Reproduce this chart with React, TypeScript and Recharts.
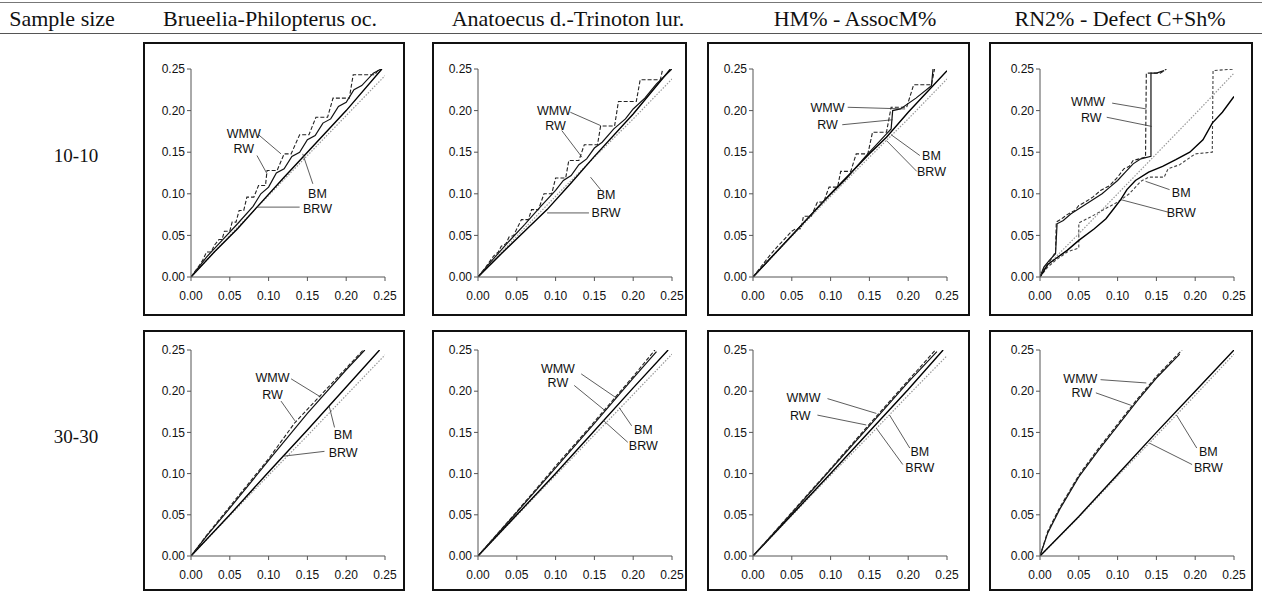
import { LineChart, Line, XAxis, YAxis, ReferenceLine, ReferenceDot } from "recharts";

type Pt = [number, number];

const headers = ["Brueelia-Philopterus oc.", "Anatoecus d.-Trinoton lur.", "HM% - AssocM%", "RN2% - Defect C+Sh%"];
const sampleSizes = ["10-10", "30-30"];
const axisTicks = [0, 0.05, 0.1, 0.15, 0.2, 0.25];

// ---- 10-10 ----
const bru10WMW: Pt[] = [[0, 0], [0.01, 0.013], [0.015, 0.02], [0.02, 0.03], [0.026, 0.03], [0.03, 0.038], [0.036, 0.045], [0.04, 0.045], [0.043, 0.055], [0.05, 0.055], [0.053, 0.066], [0.058, 0.066], [0.062, 0.08], [0.068, 0.08], [0.072, 0.096], [0.081, 0.096], [0.087, 0.11], [0.096, 0.11], [0.098, 0.128], [0.111, 0.128], [0.12, 0.148], [0.129, 0.148], [0.14, 0.171], [0.152, 0.171], [0.161, 0.192], [0.176, 0.192], [0.183, 0.215], [0.204, 0.215], [0.209, 0.243], [0.237, 0.243], [0.242, 0.25]];
const bru10RW: Pt[] = [[0, 0], [0.02, 0.024], [0.04, 0.044], [0.06, 0.064], [0.08, 0.085], [0.09, 0.1], [0.1, 0.108], [0.11, 0.125], [0.12, 0.13], [0.13, 0.145], [0.14, 0.15], [0.15, 0.165], [0.16, 0.17], [0.17, 0.185], [0.18, 0.19], [0.19, 0.205], [0.2, 0.21], [0.21, 0.225], [0.22, 0.23], [0.235, 0.245], [0.245, 0.25]];
const bru10BM: Pt[] = [[0, 0], [0.05, 0.05], [0.1, 0.098], [0.15, 0.146], [0.2, 0.194], [0.25, 0.242]];
const bru10BRW: Pt[] = [[0, 0], [0.03, 0.03], [0.06, 0.058], [0.085, 0.084], [0.12, 0.12], [0.15, 0.15], [0.2, 0.2], [0.246, 0.25]];

const ana10WMW: Pt[] = [[0, 0], [0.01, 0.012], [0.02, 0.025], [0.026, 0.03], [0.03, 0.037], [0.036, 0.04], [0.04, 0.048], [0.046, 0.05], [0.05, 0.058], [0.056, 0.069], [0.065, 0.069], [0.069, 0.081], [0.078, 0.081], [0.085, 0.1], [0.095, 0.1], [0.1, 0.119], [0.113, 0.119], [0.117, 0.14], [0.13, 0.14], [0.137, 0.159], [0.154, 0.159], [0.158, 0.1815], [0.176, 0.1815], [0.181, 0.211], [0.204, 0.211], [0.209, 0.237], [0.235, 0.237], [0.238, 0.25]];
const ana10RW: Pt[] = [[0, 0], [0.02, 0.022], [0.04, 0.043], [0.06, 0.063], [0.08, 0.084], [0.1, 0.104], [0.11, 0.116], [0.12, 0.122], [0.13, 0.135], [0.14, 0.142], [0.15, 0.155], [0.16, 0.162], [0.175, 0.178], [0.19, 0.19], [0.2, 0.202], [0.215, 0.215], [0.23, 0.232], [0.25, 0.25]];
const ana10BM: Pt[] = [[0, 0], [0.05, 0.049], [0.1, 0.097], [0.15, 0.144], [0.2, 0.19], [0.25, 0.238]];
const ana10BRW: Pt[] = [[0, 0], [0.03, 0.028], [0.06, 0.055], [0.089, 0.081], [0.12, 0.113], [0.15, 0.145], [0.2, 0.196], [0.248, 0.25]];

const hm10WMW: Pt[] = [[0, 0], [0.01, 0.012], [0.02, 0.024], [0.03, 0.035], [0.04, 0.045], [0.05, 0.055], [0.055, 0.058], [0.062, 0.058], [0.065, 0.073], [0.075, 0.073], [0.083, 0.09], [0.091, 0.09], [0.098, 0.108], [0.109, 0.108], [0.113, 0.127], [0.126, 0.127], [0.133, 0.148], [0.148, 0.148], [0.154, 0.174], [0.172, 0.174], [0.178, 0.204], [0.198, 0.204], [0.207, 0.231], [0.23, 0.231], [0.234, 0.25]];
const hm10RW: Pt[] = [[0, 0], [0.03, 0.03], [0.06, 0.06], [0.09, 0.09], [0.12, 0.118], [0.145, 0.145], [0.16, 0.16], [0.172, 0.172], [0.178, 0.178], [0.18, 0.2], [0.19, 0.202], [0.21, 0.215], [0.23, 0.23], [0.232, 0.25]];
const hm10BM: Pt[] = [[0, 0], [0.05, 0.049], [0.1, 0.097], [0.15, 0.144], [0.2, 0.19], [0.25, 0.238]];
const hm10BRW: Pt[] = [[0, 0], [0.05, 0.05], [0.1, 0.1], [0.15, 0.148], [0.172, 0.168], [0.2, 0.198], [0.25, 0.248]];

const rn10WMW: Pt[] = [[0, 0], [0.005, 0.01], [0.012, 0.018], [0.02, 0.03], [0.021, 0.066], [0.028, 0.07], [0.035, 0.075], [0.045, 0.08], [0.05, 0.086], [0.058, 0.09], [0.068, 0.096], [0.078, 0.104], [0.09, 0.11], [0.1, 0.12], [0.108, 0.13], [0.115, 0.133], [0.12, 0.14], [0.136, 0.144], [0.137, 0.245], [0.155, 0.245], [0.163, 0.25]];
const rn10RW: Pt[] = [[0, 0], [0.005, 0.012], [0.012, 0.02], [0.02, 0.028], [0.022, 0.064], [0.03, 0.068], [0.04, 0.076], [0.05, 0.082], [0.06, 0.088], [0.07, 0.094], [0.08, 0.1], [0.09, 0.108], [0.1, 0.116], [0.11, 0.126], [0.12, 0.136], [0.13, 0.142], [0.143, 0.145], [0.143, 0.245], [0.15, 0.245], [0.16, 0.248]];
const rn10BM: Pt[] = [[0, 0.005], [0.05, 0.052], [0.1, 0.1], [0.15, 0.148], [0.2, 0.196], [0.25, 0.245]];
const rn10Step: Pt[] = [[0, 0], [0.01, 0.012], [0.02, 0.02], [0.035, 0.03], [0.05, 0.035], [0.05, 0.065], [0.065, 0.072], [0.08, 0.08], [0.1, 0.09], [0.115, 0.1], [0.125, 0.11], [0.13, 0.115], [0.14, 0.12], [0.16, 0.12], [0.165, 0.13], [0.18, 0.135], [0.2, 0.148], [0.222, 0.15], [0.223, 0.248], [0.25, 0.25]];
const rn10BRW: Pt[] = [[0, 0], [0.01, 0.015], [0.02, 0.022], [0.035, 0.032], [0.05, 0.044], [0.07, 0.058], [0.085, 0.07], [0.095, 0.082], [0.104, 0.093], [0.112, 0.105], [0.123, 0.116], [0.14, 0.126], [0.158, 0.133], [0.175, 0.141], [0.193, 0.15], [0.21, 0.165], [0.222, 0.185], [0.235, 0.198], [0.25, 0.217]];

// ---- 30-30 ----
const bru30WMW: Pt[] = [[0, 0], [0.02, 0.025], [0.05, 0.06], [0.1, 0.118], [0.134, 0.162], [0.167, 0.195], [0.2, 0.228], [0.222, 0.25]];
const bru30RW: Pt[] = [[0, 0], [0.02, 0.024], [0.05, 0.058], [0.1, 0.116], [0.15, 0.173], [0.2, 0.226], [0.224, 0.25]];
const bru30BM: Pt[] = [[0, 0], [0.05, 0.049], [0.1, 0.098], [0.15, 0.146], [0.2, 0.195], [0.25, 0.244]];
const bru30BRW: Pt[] = [[0, 0], [0.05, 0.05], [0.1, 0.102], [0.15, 0.153], [0.2, 0.205], [0.243, 0.25]];

const ana30WMW: Pt[] = [[0, 0], [0.05, 0.054], [0.1, 0.109], [0.15, 0.163], [0.2, 0.218], [0.228, 0.25]];
const ana30RW: Pt[] = [[0, 0], [0.05, 0.053], [0.1, 0.107], [0.15, 0.161], [0.2, 0.216], [0.23, 0.248]];
const ana30BM: Pt[] = [[0, 0], [0.05, 0.049], [0.1, 0.098], [0.15, 0.147], [0.2, 0.196], [0.25, 0.245]];
const ana30BRW: Pt[] = [[0, 0], [0.05, 0.05], [0.1, 0.1], [0.15, 0.152], [0.2, 0.204], [0.245, 0.25]];

const hm30WMW: Pt[] = [[0, 0], [0.05, 0.053], [0.1, 0.106], [0.15, 0.16], [0.2, 0.213], [0.235, 0.25]];
const hm30RW: Pt[] = [[0, 0], [0.05, 0.052], [0.1, 0.105], [0.15, 0.158], [0.2, 0.211], [0.237, 0.248]];
const hm30BM: Pt[] = [[0, 0], [0.05, 0.049], [0.1, 0.098], [0.15, 0.146], [0.2, 0.195], [0.25, 0.243]];
const hm30BRW: Pt[] = [[0, 0], [0.05, 0.05], [0.1, 0.1], [0.15, 0.151], [0.2, 0.202], [0.245, 0.25]];

const rn30WMW: Pt[] = [[0, 0], [0.01, 0.03], [0.025, 0.058], [0.05, 0.098], [0.075, 0.13], [0.1, 0.16], [0.125, 0.19], [0.15, 0.218], [0.183, 0.25]];
const rn30RW: Pt[] = [[0, 0], [0.01, 0.028], [0.025, 0.056], [0.05, 0.096], [0.075, 0.128], [0.1, 0.158], [0.125, 0.188], [0.15, 0.216], [0.18, 0.245]];
const rn30BM: Pt[] = [[0, 0], [0.05, 0.047], [0.1, 0.097], [0.15, 0.146], [0.2, 0.195], [0.25, 0.245]];
const rn30BRW: Pt[] = [[0, 0], [0.05, 0.048], [0.1, 0.099], [0.15, 0.15], [0.2, 0.2], [0.25, 0.25]];

const styles: Record<string, { stroke: string; dash?: string; w: number }> = {
  WMW: { stroke: "#222", dash: "4 2", w: 1.1 },
  RW: { stroke: "#111", w: 1.2 },
  BM: { stroke: "#999", dash: "1.5 1.5", w: 1.2 },
  BRW: { stroke: "#000", w: 1.4 },
  step: { stroke: "#444", dash: "3 2", w: 1.1 },
};

type Note = { name: string; at: Pt; from: Pt; to: Pt };
type PanelDef = { series: [string, Pt[]][]; notes: Note[] };

const note = (name: string, at: Pt, from: Pt, to: Pt): Note => ({ name, at, from, to });

const panels: PanelDef[][] = [
  [
    {
      series: [["BM", bru10BM], ["BRW", bru10BRW], ["RW", bru10RW], ["WMW", bru10WMW]],
      notes: [
        note("WMW", [0.068, 0.173], [0.087, 0.171], [0.116, 0.148]),
        note("RW", [0.068, 0.154], [0.085, 0.146], [0.098, 0.124]),
        note("BM", [0.163, 0.1], [0.157, 0.112], [0.144, 0.148]),
        note("BRW", [0.163, 0.082], [0.14, 0.084], [0.085, 0.084]),
      ],
    },
    {
      series: [["BM", ana10BM], ["BRW", ana10BRW], ["RW", ana10RW], ["WMW", ana10WMW]],
      notes: [
        note("WMW", [0.098, 0.2], [0.119, 0.198], [0.158, 0.182]),
        note("RW", [0.1, 0.182], [0.108, 0.176], [0.134, 0.144]),
        note("BM", [0.165, 0.099], [0.158, 0.105], [0.145, 0.12]),
        note("BRW", [0.165, 0.077], [0.143, 0.077], [0.089, 0.077]),
      ],
    },
    {
      series: [["BM", hm10BM], ["BRW", hm10BRW], ["RW", hm10RW], ["WMW", hm10WMW]],
      notes: [
        note("WMW", [0.096, 0.204], [0.122, 0.204], [0.196, 0.202]),
        note("RW", [0.096, 0.183], [0.115, 0.183], [0.18, 0.189]),
        note("BM", [0.23, 0.146], [0.215, 0.146], [0.178, 0.171]),
        note("BRW", [0.23, 0.127], [0.211, 0.127], [0.172, 0.164]),
      ],
    },
    {
      series: [["BM", rn10BM], ["step", rn10Step], ["BRW", rn10BRW], ["RW", rn10RW], ["WMW", rn10WMW]],
      notes: [
        note("WMW", [0.062, 0.211], [0.093, 0.209], [0.137, 0.202]),
        note("RW", [0.066, 0.192], [0.086, 0.192], [0.144, 0.181]),
        note("BM", [0.182, 0.101], [0.167, 0.105], [0.136, 0.115]),
        note("BRW", [0.182, 0.078], [0.165, 0.078], [0.104, 0.093]),
      ],
    },
  ],
  [
    {
      series: [["BM", bru30BM], ["BRW", bru30BRW], ["RW", bru30RW], ["WMW", bru30WMW]],
      notes: [
        note("WMW", [0.105, 0.217], [0.129, 0.215], [0.167, 0.193]),
        note("RW", [0.105, 0.196], [0.116, 0.188], [0.134, 0.164]),
        note("BM", [0.196, 0.147], [0.185, 0.156], [0.178, 0.182]),
        note("BRW", [0.196, 0.126], [0.172, 0.127], [0.118, 0.121]),
      ],
    },
    {
      series: [["BM", ana30BM], ["BRW", ana30BRW], ["RW", ana30RW], ["WMW", ana30WMW]],
      notes: [
        note("WMW", [0.103, 0.227], [0.133, 0.221], [0.178, 0.192]),
        note("RW", [0.103, 0.211], [0.124, 0.207], [0.163, 0.177]),
        note("BM", [0.213, 0.153], [0.198, 0.158], [0.182, 0.18]),
        note("BRW", [0.213, 0.134], [0.193, 0.138], [0.161, 0.165]),
      ],
    },
    {
      series: [["BM", hm30BM], ["BRW", hm30BRW], ["RW", hm30RW], ["WMW", hm30WMW]],
      notes: [
        note("WMW", [0.065, 0.192], [0.096, 0.191], [0.159, 0.173]),
        note("RW", [0.061, 0.171], [0.083, 0.171], [0.146, 0.159]),
        note("BM", [0.215, 0.127], [0.202, 0.131], [0.176, 0.171]),
        note("BRW", [0.215, 0.107], [0.193, 0.111], [0.159, 0.155]),
      ],
    },
    {
      series: [["BM", rn30BM], ["BRW", rn30BRW], ["RW", rn30RW], ["WMW", rn30WMW]],
      notes: [
        note("WMW", [0.052, 0.215], [0.078, 0.214], [0.137, 0.21]),
        note("RW", [0.054, 0.198], [0.072, 0.198], [0.117, 0.183]),
        note("BM", [0.217, 0.127], [0.202, 0.131], [0.176, 0.171]),
        note("BRW", [0.217, 0.107], [0.196, 0.111], [0.141, 0.137]),
      ],
    },
  ],
];

const cols = [
  { left: 143, width: 262, plotLeft: 191 },
  { left: 432, width: 255, plotLeft: 478 },
  { left: 707, width: 263, plotLeft: 753 },
  { left: 989, width: 264, plotLeft: 1040 },
];
const rows = [
  { top: 42, height: 274, plotTop: 69, plotBottom: 277 },
  { top: 330, height: 261, plotTop: 350, plotBottom: 556 },
];
const plotW = 194;
const sans = "Arial, 'Liberation Sans', sans-serif";
const serif = "'Times New Roman', 'Liberation Serif', serif";

function Panel({ def, r, c }: { def: PanelDef; r: number; c: number }) {
  const col = cols[c];
  const row = rows[r];
  const w = col.width - 4;
  const h = row.height - 4;
  const yW = col.plotLeft - (col.left + 2);
  const mTop = row.plotTop - (row.top + 2);
  const xH = h - (row.plotBottom - (row.top + 2));
  const fmt = (v: number) => v.toFixed(2);
  return (
    <div
      style={{
        position: "absolute",
        left: col.left,
        top: row.top,
        width: col.width,
        height: row.height,
        border: "2px solid #111",
        boxSizing: "border-box",
      }}
    >
      <LineChart width={w} height={h} margin={{ top: mTop, right: w - yW - plotW, bottom: 0, left: 0 }}>
        <XAxis
          type="number"
          dataKey="x"
          domain={[0, 0.25]}
          ticks={axisTicks}
          tickFormatter={fmt}
          allowDataOverflow
          height={xH}
          tickSize={4}
          tickMargin={10}
          stroke="#555"
          tick={{ fill: "#111", fontSize: 12, fontFamily: sans }}
        />
        <YAxis
          type="number"
          domain={[0, 0.25]}
          ticks={axisTicks}
          tickFormatter={fmt}
          allowDataOverflow
          width={yW}
          tickSize={4}
          tickMargin={2}
          stroke="#555"
          tick={{ fill: "#111", fontSize: 12, fontFamily: sans }}
        />
        {def.series.map(([name, pts], i) => {
          const s = styles[name];
          return (
            <Line
              key={name + i}
              data={pts.map(([x, y]) => ({ x, y }))}
              dataKey="y"
              type="linear"
              stroke={s.stroke}
              strokeWidth={s.w}
              strokeDasharray={s.dash}
              dot={false}
              activeDot={false}
              isAnimationActive={false}
            />
          );
        })}
        {def.notes.map((n) => (
          <ReferenceLine
            key={"l" + n.name}
            segment={[
              { x: n.from[0], y: n.from[1] },
              { x: n.to[0], y: n.to[1] },
            ]}
            stroke="#333"
            strokeWidth={0.8}
          />
        ))}
        {def.notes.map((n) => (
          <ReferenceDot
            key={"t" + n.name}
            x={n.at[0]}
            y={n.at[1]}
            r={0}
            stroke="none"
            fill="none"
            label={{ value: n.name, position: "center", fill: "#111", fontSize: 12.5, fontFamily: sans }}
          />
        ))}
      </LineChart>
    </div>
  );
}

const headerCenters = [270, 568, 855, 1120];

export default function App() {
  return (
    <div
      style={{
        position: "absolute",
        left: 0,
        top: 0,
        width: 1262,
        height: 592,
        background: "#fff",
        overflow: "hidden",
        fontFamily: serif,
        color: "#111",
      }}
    >
      <div style={{ position: "absolute", left: 0, top: 2, width: 1262, height: 1, background: "#777" }} />
      <div style={{ position: "absolute", left: 0, top: 33, width: 1262, height: 1, background: "#555" }} />
      <div style={{ position: "absolute", left: 62, top: 8, transform: "translateX(-50%)", fontSize: 22, lineHeight: "21px", whiteSpace: "nowrap" }}>
        Sample size
      </div>
      {headers.map((t, i) => (
        <div
          key={t}
          style={{ position: "absolute", left: headerCenters[i], top: 8, transform: "translateX(-50%)", fontSize: 22, lineHeight: "21px", whiteSpace: "nowrap" }}
        >
          {t}
        </div>
      ))}
      {sampleSizes.map((t, i) => (
        <div
          key={t}
          style={{ position: "absolute", left: 76, top: i === 0 ? 146 : 427, transform: "translateX(-50%)", fontSize: 19, lineHeight: "19px", whiteSpace: "nowrap" }}
        >
          {t}
        </div>
      ))}
      {panels.map((rowDefs, r) => rowDefs.map((def, c) => <Panel key={r + "-" + c} def={def} r={r} c={c} />))}
    </div>
  );
}
